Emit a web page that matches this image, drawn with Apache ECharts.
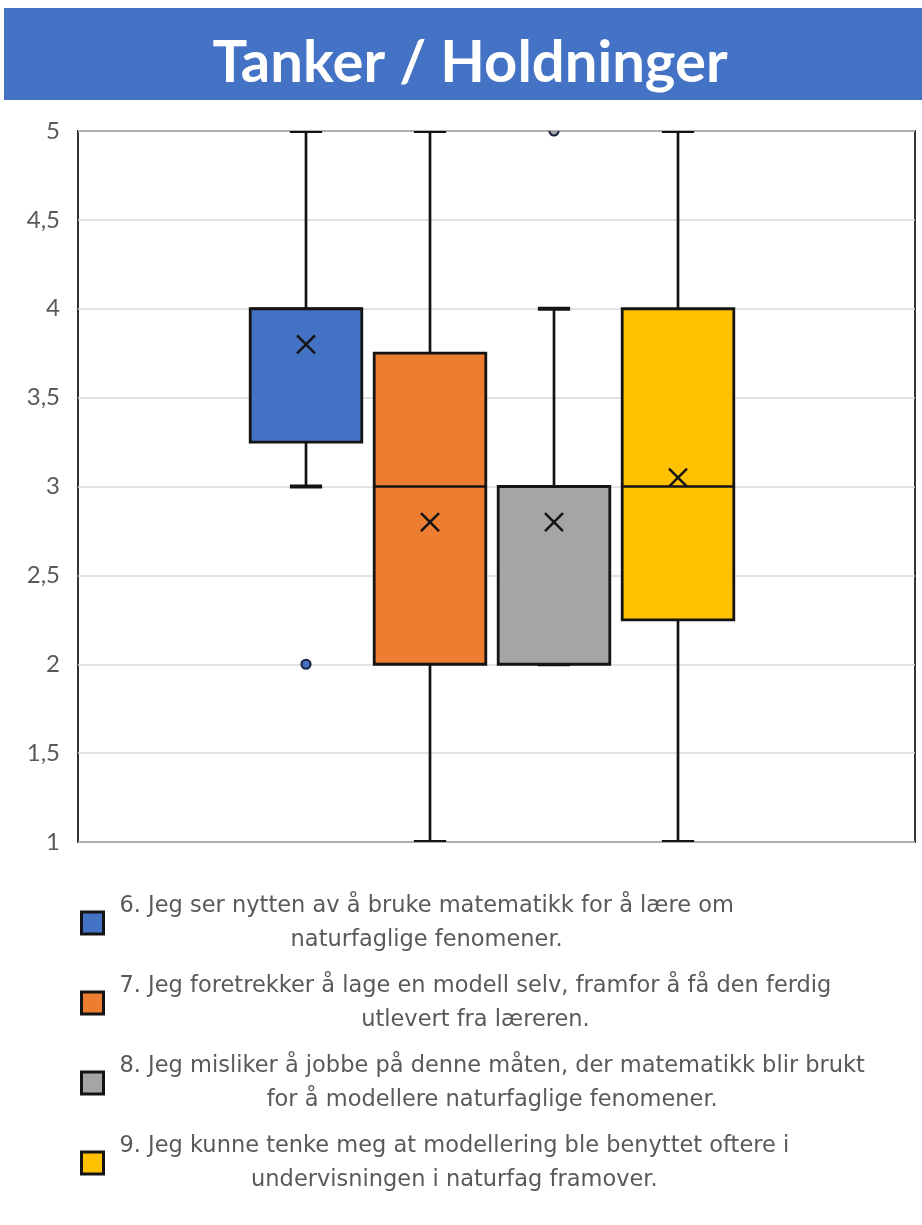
<!DOCTYPE html>
<html>
<head>
<meta charset="utf-8">
<script src="https://cdn.jsdelivr.net/npm/echarts@6/dist/echarts.min.js"></script>
<style>
  html, body { margin: 0; padding: 0; background: #ffffff; }
  #chart { width: 922px; height: 1225px; }
</style>
</head>
<body>
<div id="chart"></div>
<script>
// Survey statements (each split over two legend lines)
const titleText = 'Tanker / Holdninger';
const questions = [
  ['6. Jeg ser nytten av å bruke matematikk for å lære om', 'naturfaglige fenomener.'],
  ['7. Jeg foretrekker å lage en modell selv, framfor å få den ferdig', 'utlevert fra læreren.'],
  ['8. Jeg misliker å jobbe på denne måten, der matematikk blir brukt', 'for å modellere naturfaglige fenomener.'],
  ['9. Jeg kunne tenke meg at modellering ble benyttet oftere i', 'undervisningen i naturfag framover.']
];
const seriesColors = ['#4472C4', '#ED7D31', '#A5A5A5', '#FFC000'];

// Box-and-whisker statistics per statement
const whiskerLow  = [3,    1,    2, 1];
const quartile1   = [3.25, 2,    2, 2.25];
const medians     = [4,    3,    3, 3];
const quartile3   = [4,    3.75, 3, 4];
const whiskerHigh = [5,    5,    4, 5];
const means       = [3.8,  2.8,  2.8, 3.05];

// Outlying answers: statement index and value
const outlierIndex = [0, 2];
const outlierValue = [2, 5];

// Value axis (Likert scale 1–5)
const yMin = 1;
const yMax = 5;
const yStep = 0.5;

const FONT = 'Lato, "Open Sans", sans-serif';
const LEGEND_FONT = '"DejaVu Sans", "Open Sans", sans-serif';
const INK = '#141414';
const seriesNames = questions.map(q => q.join(' '));

function renderBox(params, api) {
  const c = api.value(0);
  const at = k => api.coord([c, api.value(k)]);
  const lo = at(1), q1 = at(2), md = at(3), q3 = at(4), hi = at(5), mn = at(6);
  const band = api.size([1, 0])[0];
  const half = band * 0.45;
  const capHalf = band * 0.13;
  const x = lo[0];
  const xs = 9;
  const seg = (x1, y1, x2, y2, w) => ({
    type: 'line',
    shape: { x1: x1, y1: y1, x2: x2, y2: y2 },
    style: { stroke: INK, lineWidth: w, lineCap: 'butt' }
  });
  return {
    type: 'group',
    children: [
      seg(x, hi[1], x, q3[1], 2.7),
      seg(x, q1[1], x, lo[1], 2.7),
      seg(x - capHalf, hi[1], x + capHalf, hi[1], 3.8),
      seg(x - capHalf, lo[1], x + capHalf, lo[1], 3.8),
      {
        type: 'rect',
        shape: { x: x - half, y: q3[1], width: half * 2, height: q1[1] - q3[1] },
        style: { fill: api.visual('color'), stroke: INK, lineWidth: 2.8 }
      },
      seg(x - half, md[1], x + half, md[1], 2.5),
      seg(mn[0] - xs, mn[1] - xs, mn[0] + xs, mn[1] + xs, 2.5),
      seg(mn[0] - xs, mn[1] + xs, mn[0] + xs, mn[1] - xs, 2.5)
    ]
  };
}

// Outlier dots, clipped to the plot frame
function renderOutlier(params, api) {
  const p = api.coord([api.value(0), api.value(1)]);
  return {
    type: 'circle',
    shape: { cx: p[0], cy: p[1], r: 4.5 },
    style: { fill: seriesColors[api.value(0)], stroke: '#1c2544', lineWidth: 2.2 }
  };
}

const boxSeries = questions.map((q, i) => ({
  name: seriesNames[i],
  type: 'custom',
  xAxisIndex: 1,
  yAxisIndex: 1,
  clip: true,
  itemStyle: { color: seriesColors[i] },
  renderItem: renderBox,
  encode: { x: 0, y: [1, 2, 3, 4, 5, 6] },
  data: [[i, whiskerLow[i], quartile1[i], medians[i], quartile3[i], whiskerHigh[i], means[i]]],
  z: 3
}));

const outlierSeries = {
  name: 'outliers',
  type: 'custom',
  xAxisIndex: 1,
  yAxisIndex: 1,
  clip: true,
  renderItem: renderOutlier,
  encode: { x: 0, y: 1 },
  data: outlierIndex.map((idx, k) => [idx, outlierValue[k]]),
  z: 4
};

const chart = echarts.init(document.getElementById('chart'), null, { renderer: 'canvas' });

chart.setOption({
  animation: false,
  backgroundColor: '#ffffff',
  graphic: [
    { type: 'rect', shape: { x: 4, y: 8, width: 918, height: 92 }, style: { fill: '#4472C4' }, z: 0 },
    {
      type: 'text', x: 470, y: 63, z: 1,
      style: {
        text: titleText, fill: '#ffffff', font: 'bold 58px Lato, "Open Sans", sans-serif',
        textAlign: 'center', textVerticalAlign: 'middle'
      }
    }
  ],
  grid: [
    { left: 78, right: 7, top: 131, bottom: 383, show: true, borderColor: '#333333', borderWidth: 2, backgroundColor: 'transparent' },
    { left: 244, right: 182, top: 131, bottom: 383 }
  ],
  xAxis: [
    { gridIndex: 0, type: 'value', min: 0, max: 1, show: false },
    { gridIndex: 1, type: 'category', data: questions.map((q, i) => String(i)), show: false, boundaryGap: true }
  ],
  yAxis: [
    {
      gridIndex: 0, type: 'value', min: yMin, max: yMax, interval: yStep,
      axisLine: { show: false }, axisTick: { show: false },
      splitLine: { show: true, lineStyle: { color: '#d9d9d9', width: 1.5 } },
      axisLabel: {
        margin: 18, color: '#595959', fontSize: 24, fontFamily: FONT,
        formatter: v => String(v).replace('.', ',')
      }
    },
    { gridIndex: 1, type: 'value', min: yMin, max: yMax, interval: yStep, show: false }
  ],
  legend: {
    orient: 'vertical',
    left: 80,
    top: 889,
    padding: 0,
    itemGap: 12,
    itemWidth: 22,
    itemHeight: 22,
    selectedMode: false,
    data: seriesNames.map(n => ({ name: n, icon: 'rect' })),
    itemStyle: { borderColor: INK, borderWidth: 3 },
    formatter: name => questions[seriesNames.indexOf(name)].map(l => '{c|' + l + '}').join('\n'),
    textStyle: {
      color: '#595959', fontSize: 22.5, fontFamily: LEGEND_FONT, lineHeight: 34,
      padding: [0, 0, 0, 11],
      rich: { c: { align: 'center', color: '#595959', fontSize: 22.5, fontFamily: LEGEND_FONT, lineHeight: 34 } }
    }
  },
  series: boxSeries.concat([outlierSeries])
});
</script>
</body>
</html>
